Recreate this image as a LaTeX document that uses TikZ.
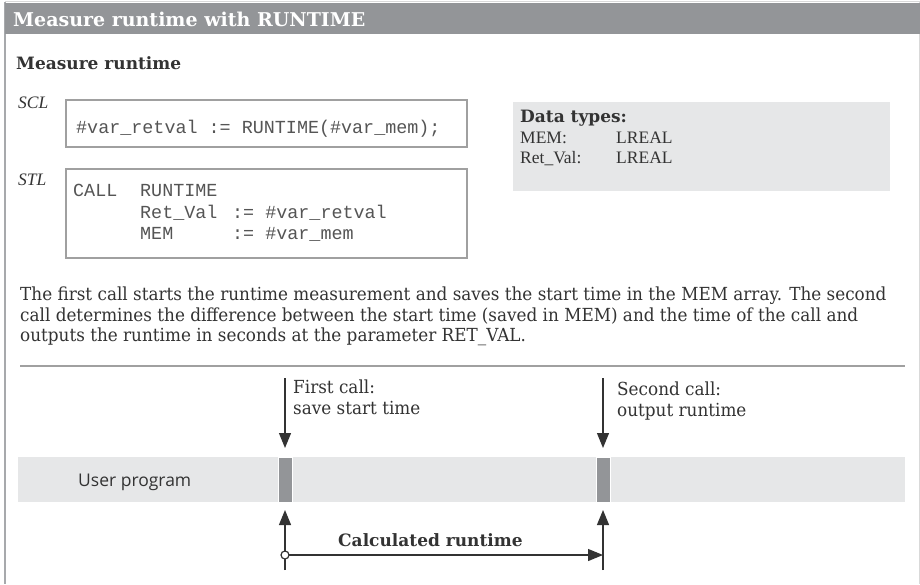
\documentclass[tikz,border=0pt]{standalone}
\usepackage{fontspec}
\setmainfont{DejaVu Serif}
\newfontfamily\bodyf[FakeStretch=0.935]{DejaVu Serif}
\newfontfamily\timesf{Liberation Serif}
\newfontfamily\sansf{Open Sans}
\setmonofont{Liberation Mono}
\usetikzlibrary{arrows.meta}
\definecolor{barbg}{HTML}{939598}
\definecolor{lightbg}{HTML}{E6E7E8}
\definecolor{txt}{HTML}{333333}
\definecolor{codetxt}{HTML}{555555}
\definecolor{framel}{HTML}{A7A9AC}
\definecolor{framer}{HTML}{D9D9D9}
\definecolor{boxline}{HTML}{A0A0A0}
\begin{document}
\begin{tikzpicture}[x=1pt,y=-1pt,
  lbl/.style={anchor=base west, inner sep=0pt, text=txt},
  titletxt/.style={anchor=base west, inner sep=0pt, text=white, font=\fontsize{19}{22}\selectfont\bfseries},
  headtxt/.style={lbl, font=\fontsize{17}{20}\selectfont\bfseries},
  bodytxt/.style={lbl, font=\bodyf\fontsize{18}{20}\selectfont},
  langtxt/.style={lbl, font=\timesf\itshape\fontsize{17.5}{20}\selectfont},
  typetxt/.style={lbl, font=\timesf\fontsize{17.5}{20}\selectfont},
  codetext/.style={anchor=base west, inner sep=0pt, text=codetxt, font=\ttfamily\fontsize{18.4}{21}\selectfont},
  codebox/.style={draw=boxline, line width=1.2pt, fill=white},
  arr/.style={line width=1.2pt, draw=txt, -{Triangle[length=15pt,width=12pt]}}]
\useasboundingbox (0,0) rectangle (920,584);
\fill[white] (0,0) rectangle (920,584);
% frame
\draw[framer, line width=1pt] (5,1.5) -- (920,1.5);
\draw[framel, line width=1.6pt] (5,2) -- (5,584);
\draw[framer, line width=1pt] (919,2) -- (919,584);
\fill[barbg] (5,2.5) rectangle (920,34);
\node[titletxt] (title) at (13,26) {Measure runtime with RUNTIME};
\node[headtxt] (head) at (16,69) {Measure runtime};
% SCL
\node[langtxt] (scl) at (18,108) {SCL};
\draw[codebox] (66,100) rectangle (467,147);
\node[codetext] (sclcode) at (76,133) {\#var\_retval := RUNTIME(\#var\_mem);};
% STL
\node[langtxt] (stl) at (18,185) {STL};
\draw[codebox] (66,169) rectangle (467,258);
\node[codetext] (call) at (73,196) {CALL};
\node[codetext] (rt) at (140,196) {RUNTIME};
\node[codetext] (retv) at (140,218) {Ret\_Val};
\node[codetext] (retva) at (232,218) {:= \#var\_retval};
\node[codetext] (mem) at (140,239) {MEM};
\node[codetext] (mema) at (232,239) {:= \#var\_mem};
% data types
\fill[lightbg] (513,102) rectangle (890,191);
\node[headtxt] (dt) at (520,122) {Data types:};
\node[typetxt] (dt1) at (520,143) {MEM:};
\node[typetxt] (dt1v) at (616,143) {LREAL};
\node[typetxt] (dt2) at (520,163) {Ret\_Val:};
\node[typetxt] (dt2v) at (616,163) {LREAL};
% paragraph
\node[bodytxt] (p1) at (20,300) {The first call starts the runtime measurement and saves the start time in the MEM array. The second};
\node[bodytxt] (p2) at (20,321) {call determines the difference between the start time (saved in MEM) and the time of the call and};
\node[bodytxt] (p3) at (20,341) {outputs the runtime in seconds at the parameter RET\_VAL.};
\draw[boxline, line width=1.2pt] (20,366) -- (905,366);
% timeline
\fill[lightbg] (18,457) rectangle (905,502);
\draw[white, line width=1pt, fill=barbg] (278,457) rectangle (292,502);
\draw[white, line width=1pt, fill=barbg] (596,457) rectangle (610,502);
\node[lbl, font=\sansf\fontsize{17.5}{20}\selectfont] (up) at (78,486) {User program};
% call labels
\node[bodytxt] (fc1) at (293,393) {First call:};
\node[bodytxt] (fc2) at (293,414) {save start time};
\node[bodytxt] (sc1) at (617,395) {Second call:};
\node[bodytxt] (sc2) at (617,416) {output runtime};
% arrow coordinates
\coordinate (a1top) at (285,378);
\coordinate (a1tip) at (285,448);
\coordinate (a2top) at (603,378);
\coordinate (a2tip) at (603,448);
\coordinate (b1bot) at (285,570);
\coordinate (b1tip) at (285,510);
\coordinate (b2bot) at (603,570);
\coordinate (b2tip) at (603,510);
\coordinate (hstart) at (285,555);
\coordinate (hend) at (603,555);
\draw[arr] (a1top) -- (a1tip);
\draw[arr] (a2top) -- (a2tip);
\draw[arr] (b1bot) -- (b1tip);
\draw[arr] (b2bot) -- (b2tip);
\draw[arr] (hstart) -- (hend);
\draw[line width=1.2pt, draw=txt, fill=white] (hstart) circle (4);
\node[headtxt] (calc) at (338,546) {Calculated runtime};
\end{tikzpicture}
\end{document}
